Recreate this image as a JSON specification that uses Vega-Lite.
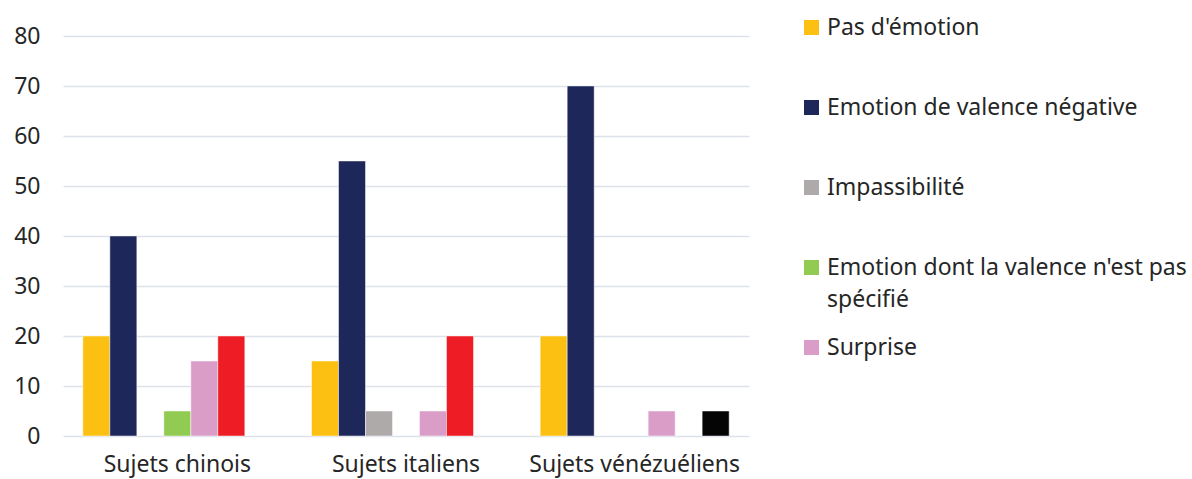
{
  "$schema": "https://vega.github.io/schema/vega-lite/v6.json",
  "autosize": {"type": "none"},
  "padding": {"left": 63, "top": 36, "right": 443, "bottom": 43},
  "width": 686,
  "height": 400,
  "background": "#ffffff",
  "data": {
    "values": [
      {"groupe": "Sujets chinois", "categorie": "Pas d'émotion", "valeur": 20},
      {"groupe": "Sujets chinois", "categorie": "Emotion de valence négative", "valeur": 40},
      {"groupe": "Sujets chinois", "categorie": "Emotion dont la valence n'est pas spécifié", "valeur": 5},
      {"groupe": "Sujets chinois", "categorie": "Surprise", "valeur": 15},
      {"groupe": "Sujets chinois", "categorie": "Catégorie 6", "valeur": 20},
      {"groupe": "Sujets italiens", "categorie": "Pas d'émotion", "valeur": 15},
      {"groupe": "Sujets italiens", "categorie": "Emotion de valence négative", "valeur": 55},
      {"groupe": "Sujets italiens", "categorie": "Impassibilité", "valeur": 5},
      {"groupe": "Sujets italiens", "categorie": "Surprise", "valeur": 5},
      {"groupe": "Sujets italiens", "categorie": "Catégorie 6", "valeur": 20},
      {"groupe": "Sujets vénézuéliens", "categorie": "Pas d'émotion", "valeur": 20},
      {"groupe": "Sujets vénézuéliens", "categorie": "Emotion de valence négative", "valeur": 70},
      {"groupe": "Sujets vénézuéliens", "categorie": "Surprise", "valeur": 5},
      {"groupe": "Sujets vénézuéliens", "categorie": "Catégorie 7", "valeur": 5}
    ]
  },
  "mark": {"type": "bar", "stroke": "#ffffff", "strokeWidth": 0.8, "strokeOpacity": 0.6},
  "encoding": {
    "x": {
      "field": "groupe",
      "type": "nominal",
      "sort": ["Sujets chinois", "Sujets italiens", "Sujets vénézuéliens"],
      "scale": {"paddingInner": 0.1736, "paddingOuter": 0.0868},
      "axis": {
        "title": null,
        "labelAngle": 0,
        "domain": false,
        "ticks": false,
        "tickSize": 0,
        "labelPadding": 17,
        "labelLimit": 400,
        "labelFont": "Noto Sans",
        "labelFontSize": 23,
        "labelColor": "#262626"
      }
    },
    "xOffset": {
      "field": "categorie",
      "type": "nominal",
      "scale": {
        "domain": ["Pas d'émotion", "Emotion de valence négative", "Impassibilité", "Emotion dont la valence n'est pas spécifié", "Surprise", "Catégorie 6", "Catégorie 7"],
        "paddingInner": 0,
        "paddingOuter": 0
      }
    },
    "y": {
      "field": "valeur",
      "type": "quantitative",
      "scale": {"domain": [0, 80], "nice": false},
      "axis": {
        "title": null,
        "values": [0, 10, 20, 30, 40, 50, 60, 70, 80],
        "domain": false,
        "ticks": false,
        "tickSize": 0,
        "labelPadding": 23,
        "labelFont": "Noto Sans",
        "labelFontSize": 23,
        "labelColor": "#262626",
        "gridColor": "#dde2ea",
        "gridWidth": 1.5
      }
    },
    "color": {
      "field": "categorie",
      "type": "nominal",
      "scale": {
        "domain": ["Pas d'émotion", "Emotion de valence négative", "Impassibilité", "Emotion dont la valence n'est pas spécifié", "Surprise", "Catégorie 6", "Catégorie 7"],
        "range": ["#fbc012", "#1e2759", "#aeaaaa", "#92cb52", "#da9dc8", "#ee1c25", "#050505"]
      },
      "legend": {
        "title": null,
        "orient": "none",
        "legendX": 737,
        "legendY": -20,
        "padding": 0,
        "values": ["Pas d'émotion", "Emotion de valence négative", "Impassibilité", "Emotion dont la valence n'est pas spécifié", "Surprise"],
        "labelExpr": "datum.label === \"Emotion dont la valence n'est pas spécifié\" ? [\"Emotion dont la valence n'est pas\", \"spécifié\"] : [datum.label, \"\"]",
        "symbolType": "square",
        "symbolSize": 225,
        "symbolStrokeWidth": 0,
        "labelFont": "Noto Sans",
        "labelFontSize": 23,
        "labelColor": "#262626",
        "labelLimit": 420,
        "labelOffset": 4,
        "rowPadding": 24
      }
    }
  },
  "config": {
    "view": {"stroke": null},
    "style": {"guide-label": {"lineHeight": 32}}
  }
}
